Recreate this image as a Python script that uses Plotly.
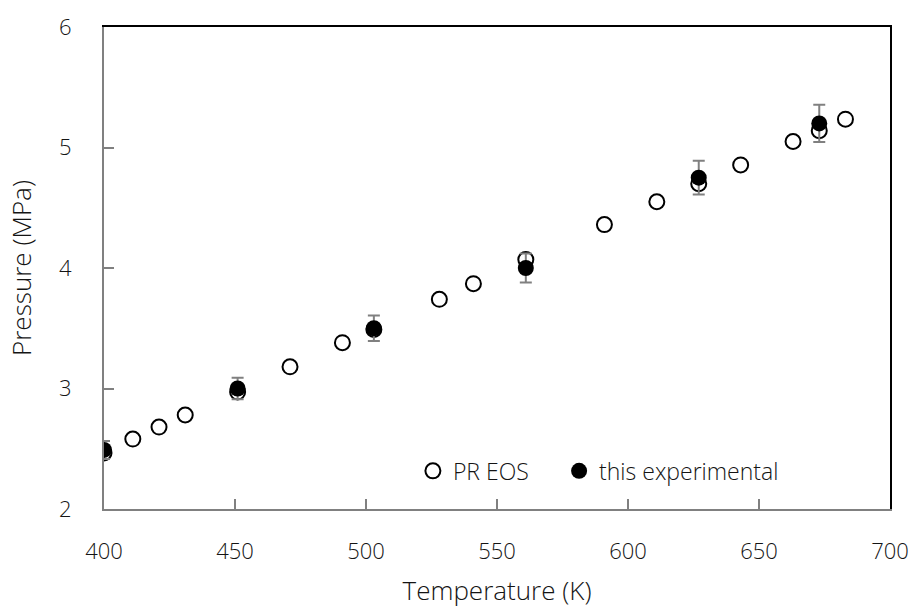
import plotly.graph_objects as go

# PR EOS (open circles)
pr_T = [400, 411, 421, 431, 451, 471, 491, 503, 528, 541, 561, 591, 611, 627, 643, 663, 673, 683]
pr_P = [2.465, 2.58, 2.68, 2.78, 2.97, 3.18, 3.38, 3.49, 3.74, 3.87, 4.07, 4.36, 4.55, 4.70, 4.855, 5.05, 5.14, 5.235]

# this experimental (filled circles with error bars)
ex_T = [400, 451, 503, 561, 627, 673]
ex_P = [2.49, 3.00, 3.50, 4.00, 4.75, 5.20]
ex_err = [0.075, 0.09, 0.105, 0.12, 0.14, 0.155]

x_ticks = [400, 450, 500, 550, 600, 650, 700]
y_ticks = [2, 3, 4, 5, 6]

FONT = "Open Sans"
GRAY = "#808080"
TXT = dict(family=FONT, size=22, color="#141414", weight=300)

fig = go.Figure()
fig.add_trace(go.Scatter(x=[ex_T[0]], y=[ex_P[0]], xaxis="x2", yaxis="y2", mode="markers",
                         marker=dict(opacity=0), showlegend=False, hoverinfo="skip"))
fig.add_trace(go.Scatter(
    x=pr_T, y=pr_P, mode="markers", name="PR EOS", legend="legend",
    marker=dict(symbol="circle-open", size=15, color="black", line=dict(width=2, color="black")),
))
fig.add_trace(go.Scatter(
    x=ex_T, y=ex_P, mode="markers", name="this experimental", legend="legend2",
    marker=dict(symbol="circle", size=16, color="black"),
    error_y=dict(type="data", array=ex_err, visible=True, color=GRAY, thickness=2, width=6),
))

leg_common = dict(orientation="h", xanchor="left", yanchor="middle",
                  bgcolor="rgba(0,0,0,0)", font=dict(size=23), itemwidth=30)

fig.update_layout(
    width=913, height=608,
    margin=dict(l=104, r=23, t=27, b=99, autoexpand=False),
    paper_bgcolor="white", plot_bgcolor="white",
    font=TXT,
    showlegend=True,
    legend=dict(x=0.393, y=0.079, **leg_common),
    legend2=dict(x=0.579, y=0.079, **leg_common),
    xaxis=dict(
        range=[400, 700], tickvals=x_ticks, ticks="inside", ticklen=10, tickwidth=2,
        tickcolor=GRAY, showline=True, linecolor=GRAY, linewidth=2, showgrid=False,
        zeroline=False, title=dict(text="Temperature (K)", standoff=22),
        tickfont=dict(size=22), ticklabelstandoff=22, automargin=False,
    ),
    yaxis=dict(
        range=[2, 6], tickvals=y_ticks, ticks="inside", ticklen=10, tickwidth=2,
        tickcolor=GRAY, showline=True, linecolor=GRAY, linewidth=2, showgrid=False,
        zeroline=False, title=dict(text="Pressure (MPa)", standoff=20),
        tickfont=dict(size=22), ticklabelstandoff=26, automargin=False,
    ),
    xaxis2=dict(overlaying="x", side="top", matches="x", showline=True, linecolor="black",
                linewidth=2, showticklabels=False, ticks="", showgrid=False, zeroline=False,
                automargin=False),
    yaxis2=dict(overlaying="y", side="right", matches="y", showline=True, linecolor="black",
                linewidth=2, showticklabels=False, ticks="", showgrid=False, zeroline=False,
                automargin=False),
)

fig.write_html("out.html")
